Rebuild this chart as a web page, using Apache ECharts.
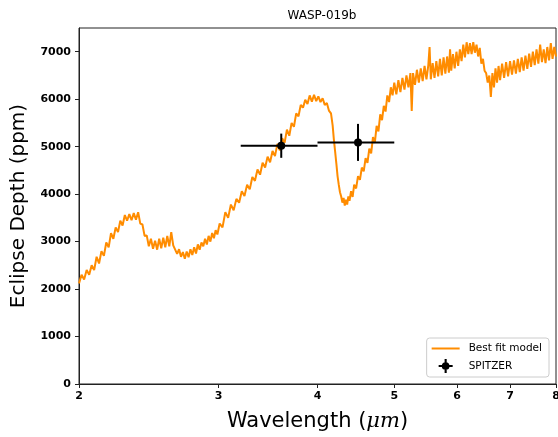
<!DOCTYPE html>
<html>
<head>
<meta charset="utf-8">
<script src="https://cdn.jsdelivr.net/npm/echarts@6/dist/echarts.min.js"></script>
<style>
  html, body { margin: 0; padding: 0; background: #fff; }
  #chart { width: 558px; height: 437px; }
</style>
</head>
<body>
<div id="chart"></div>
<script>
// best fit model spectrum, wavelength in micron
const modelWl = [
  2.000, 2.015, 2.030, 2.045, 2.060, 2.075, 2.090, 2.105, 2.120, 2.135,
  2.150, 2.165, 2.180, 2.195, 2.210, 2.225, 2.240, 2.255, 2.270, 2.285,
  2.300, 2.315, 2.330, 2.345, 2.360, 2.375, 2.390, 2.405, 2.420, 2.435,
  2.450, 2.465, 2.480, 2.495, 2.510, 2.525, 2.540, 2.555, 2.570, 2.585,
  2.600, 2.615, 2.630, 2.645, 2.660, 2.675, 2.690, 2.705, 2.720, 2.735,
  2.750, 2.765, 2.780, 2.795, 2.810, 2.825, 2.840, 2.855, 2.870, 2.885,
  2.900, 2.915, 2.930, 2.945, 2.960, 2.975, 2.990,
  3.010, 3.035, 3.060, 3.085, 3.110, 3.135, 3.160, 3.185, 3.210, 3.235,
  3.260, 3.285, 3.310, 3.335, 3.360, 3.385, 3.410, 3.435, 3.460, 3.485,
  3.510, 3.535, 3.560, 3.585, 3.610, 3.635, 3.660, 3.685, 3.710, 3.735,
  3.760, 3.785, 3.810, 3.835, 3.860, 3.885, 3.910, 3.935, 3.960, 3.985,
  4.010, 4.035, 4.060, 4.085, 4.110, 4.135, 4.160, 4.180, 4.195, 4.210,
  4.225, 4.240, 4.255, 4.270, 4.285, 4.300, 4.315, 4.330, 4.345, 4.360,
  4.375, 4.390, 4.410, 4.430, 4.450, 4.475, 4.500, 4.525, 4.550, 4.575,
  4.600, 4.625, 4.650, 4.675, 4.700, 4.725, 4.750, 4.775, 4.800, 4.825,
  4.850, 4.875, 4.900, 4.925, 4.950, 4.975,
  5.00, 5.03, 5.06, 5.09, 5.12, 5.15, 5.18, 5.21, 5.24, 5.26,
  5.28, 5.31, 5.34, 5.37, 5.40, 5.43, 5.46, 5.49, 5.52, 5.54,
  5.56, 5.59, 5.62, 5.65, 5.68, 5.71, 5.74, 5.77, 5.80, 5.83,
  5.86, 5.88, 5.90, 5.93, 5.96, 5.99, 6.02, 6.05, 6.08, 6.11,
  6.14, 6.17, 6.20, 6.23, 6.26, 6.29, 6.32, 6.35, 6.38, 6.41,
  6.44, 6.47, 6.50, 6.53, 6.56, 6.59, 6.62, 6.65, 6.68, 6.71,
  6.74, 6.77, 6.80, 6.84, 6.88, 6.92, 6.96, 7.00, 7.04, 7.08,
  7.12, 7.16, 7.20, 7.24, 7.28, 7.32, 7.36, 7.40, 7.44, 7.48,
  7.52, 7.56, 7.60, 7.64, 7.68, 7.72, 7.76, 7.80, 7.84, 7.88,
  7.92, 7.96, 8.00
];
const modelDepth = [
  2120, 2300, 2200, 2400, 2300, 2500, 2400, 2680, 2540, 2800,
  2700, 2980, 2880, 3180, 3060, 3300, 3200, 3440, 3340, 3560,
  3440, 3580, 3450, 3600, 3460, 3620, 3380, 3360, 3120, 3130,
  2900, 3060, 2850, 3020, 2830, 3060, 2860, 3080, 2880, 3120,
  2900, 3200, 2920, 2960, 2740, 2840, 2680, 2780, 2640, 2790,
  2670, 2840, 2720, 2880, 2750, 2940, 2830, 2980, 2900, 3060,
  2940, 3120, 3000, 3180, 3070, 3240, 3150,
  3380, 3300, 3620, 3500, 3780, 3660, 3900, 3820, 4060, 3960,
  4200, 4100, 4360, 4280, 4520, 4410, 4660, 4560, 4790, 4670,
  4910, 4800, 5060, 4920, 5180, 5080, 5360, 5230, 5500, 5420,
  5700, 5640, 5880, 5820, 5990, 5900, 6080, 5950, 6090, 5960,
  6060, 5940, 6020, 5880, 5920, 5760, 5700, 5450, 5150, 4900,
  4650, 4380, 4200, 4040, 3950, 3820, 3920, 3760, 3880, 3780,
  3950, 3860, 4060, 3940, 4200, 4120, 4380, 4300, 4560, 4480,
  4760, 4660, 4960, 4860, 5200, 5080, 5440, 5320, 5680, 5560,
  5860, 5740, 6080, 5940, 6250, 6080,
  6350, 6100, 6400, 6150, 6450, 6200, 6500, 6250, 6550, 5750,
  6550, 6300, 6620, 6350, 6650, 6380, 6700, 6420, 6720, 7100,
  6420, 6760, 6450, 6800, 6480, 6850, 6500, 6880, 6540, 6900,
  6560, 7050, 6600, 6950, 6650, 7000, 6700, 7050, 6800, 7150,
  6880, 7200, 6950, 7180, 6950, 7200, 6980, 7150, 6900, 7080,
  6750, 6850, 6600, 6550, 6350, 6500, 6050, 6550, 6250, 6650,
  6350, 6700, 6400, 6750, 6450, 6780, 6480, 6800, 6520, 6820,
  6540, 6850, 6570, 6880, 6600, 6920, 6640, 6960, 6680, 7000,
  6720, 7050, 6750, 7150, 6780, 7050, 6760, 7100, 6820, 7180,
  6850, 7100, 6900
];

// Spitzer eclipse depths
const spitzerWl = [3.6, 4.5];
const spitzerWlLo = [3.2, 4.0];
const spitzerWlHi = [4.0, 5.0];
const spitzerDepth = [5020, 5090];
const spitzerErr = [255, 390];

const xTicks = [2, 3, 4, 5, 6, 7, 8];
const yTicks = [0, 1000, 2000, 3000, 4000, 5000, 6000, 7000];

const lg = v => Math.log10(v);

const modelData = modelWl.map((w, i) => [lg(w), modelDepth[i]]);
const spitzerData = spitzerWl.map((w, i) => [
  lg(w), spitzerDepth[i], lg(spitzerWlLo[i]), lg(spitzerWlHi[i]),
  spitzerDepth[i] - spitzerErr[i], spitzerDepth[i] + spitzerErr[i]
]);

const labelFont = { fontFamily: 'DejaVu Sans', fontWeight: 'bold', fontSize: 11, color: '#000' };

const chart = echarts.init(document.getElementById('chart'), null, { renderer: 'canvas' });

chart.setOption({
  animation: false,
  title: {
    text: 'WASP-019b',
    left: 317, top: 5, textAlign: 'center',
    textStyle: { fontFamily: 'DejaVu Sans', fontWeight: 'normal', fontSize: 12, color: '#000' }
  },
  grid: {
    left: 79, right: 2, top: 28, bottom: 53,
    containLabel: false, outerBoundsMode: 'none',
    show: true, borderColor: '#222', borderWidth: 1
  },
  legend: {
    orient: 'vertical',
    right: 9, bottom: 60,
    padding: [5, 7, 4, 5],
    itemGap: 5,
    itemWidth: 28, itemHeight: 14,
    borderColor: '#ccc', borderWidth: 1, borderRadius: 3,
    textStyle: { fontFamily: 'DejaVu Sans', fontSize: 10.5, color: '#000', padding: [0, 0, 0, 4] },
    data: [
      { name: 'Best fit model', icon: 'path://M0,0h28v2h-28z', itemStyle: { color: '#ff8c00' } },
      {
        name: 'SPITZER',
        icon: 'path://M0,8.5h20v3h-20z M8.5,0h3v20h-3z M10,4.5a5.5,5.5 0 1,1 -0.01,0z',
        itemStyle: { color: '#000', borderColor: '#000', borderWidth: 0 }
      }
    ]
  },
  xAxis: {
    type: 'value',
    min: lg(2), max: lg(8),
    name: 'Wavelength ({i|μm})',
    nameLocation: 'middle',
    nameGap: 27,
    nameTextStyle: {
      fontFamily: 'DejaVu Sans', fontSize: 21, color: '#000',
      rich: { i: { fontFamily: 'DejaVu Serif', fontStyle: 'italic', fontSize: 21, color: '#000' } }
    },
    axisLine: { show: true, lineStyle: { color: '#222', width: 1 } },
    axisTick: { show: true, length: 4, customValues: xTicks.map(lg), lineStyle: { color: '#222' } },
    axisLabel: {
      ...labelFont, margin: 7,
      customValues: xTicks.map(lg),
      formatter: v => String(Math.round(Math.pow(10, v)))
    },
    splitLine: { show: false }
  },
  yAxis: {
    type: 'value',
    min: 0, max: 7500,
    name: 'Eclipse Depth (ppm)',
    nameLocation: 'middle',
    nameGap: 50,
    nameTextStyle: { fontFamily: 'DejaVu Sans', fontSize: 20, color: '#000' },
    axisLine: { show: true, lineStyle: { color: '#222', width: 1 } },
    axisTick: { show: true, length: 4, customValues: yTicks, lineStyle: { color: '#222' } },
    axisLabel: { ...labelFont, margin: 8, customValues: yTicks, formatter: v => String(v) },
    splitLine: { show: false }
  },
  series: [
    {
      name: 'Best fit model',
      type: 'line',
      data: modelData,
      showSymbol: false,
      lineStyle: { color: '#ff8c00', width: 2 },
      itemStyle: { color: '#ff8c00' },
      z: 2
    },
    {
      name: 'SPITZER',
      type: 'custom',
      data: spitzerData,
      encode: { x: [0, 2, 3], y: [1, 4, 5] },
      itemStyle: { color: '#000' },
      z: 3,
      renderItem: (params, api) => {
        const x = api.value(0), y = api.value(1);
        const c = api.coord([x, y]);
        const l = api.coord([api.value(2), y]);
        const r = api.coord([api.value(3), y]);
        const b = api.coord([x, api.value(4)]);
        const t = api.coord([x, api.value(5)]);
        const st = { stroke: '#000', lineWidth: 2 };
        return {
          type: 'group',
          children: [
            { type: 'line', shape: { x1: l[0], y1: l[1], x2: r[0], y2: r[1] }, style: st },
            { type: 'line', shape: { x1: t[0], y1: t[1], x2: b[0], y2: b[1] }, style: st },
            { type: 'circle', shape: { cx: c[0], cy: c[1], r: 4 }, style: { fill: '#000' } }
          ]
        };
      }
    }
  ]
});
</script>
</body>
</html>
